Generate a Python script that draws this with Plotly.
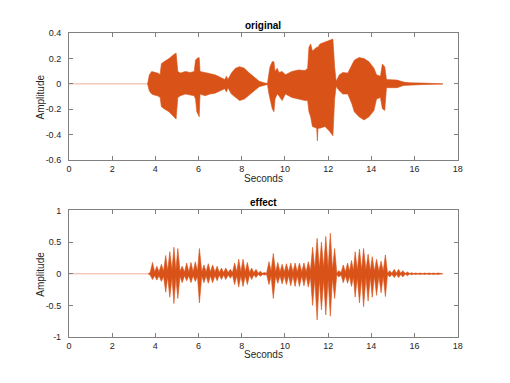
import plotly.graph_objects as go

# ---------------- data ----------------
# "original": upper / lower envelope of the waveform
orig_t = [3.64, 3.72, 3.83, 3.95, 4.10, 4.22, 4.28, 4.40, 4.63, 4.86, 4.96, 5.04, 5.16, 5.39, 5.61,
          5.80, 5.86, 5.92, 6.03, 6.07, 6.30, 6.53, 6.76, 6.98, 7.21, 7.29, 7.36, 7.52, 7.71, 7.90,
          8.12, 8.35, 8.58, 8.81, 9.03, 9.19, 9.26, 9.31, 9.41, 9.49, 9.54, 9.64, 9.72, 9.87, 10.02,
          10.32, 10.63, 10.93, 11.05, 11.11, 11.19, 11.27, 11.47, 11.50, 11.53, 11.62, 11.85, 12.07,
          12.22, 12.30, 12.37, 12.52, 12.68, 12.91, 13.10, 13.21, 13.43, 13.66, 13.89, 14.12, 14.24,
          14.42, 14.51, 14.62, 14.70, 14.88, 15.19, 15.49, 15.79, 16.40, 17.31]
orig_hi = [0.0, 0.07, 0.098, 0.093, 0.085, 0.075, 0.16, 0.175, 0.20, 0.233, 0.244, 0.098, 0.085, 0.098, 0.09,
           0.098, 0.187, 0.20, 0.208, 0.098, 0.09, 0.08, 0.072, 0.055, 0.034, 0.06, 0.034, 0.085, 0.124, 0.136,
           0.124, 0.085, 0.055, 0.021, 0.008, 0.003, 0.085, 0.136, 0.175, 0.175, 0.098, 0.124, 0.09, 0.098, 0.072,
           0.098, 0.11, 0.105, 0.124, 0.29, 0.315, 0.26, 0.29, 0.29, 0.29, 0.315, 0.328, 0.346,
           0.354, 0.136, 0.021, 0.072, 0.09, 0.085, 0.149, 0.187, 0.208, 0.20, 0.175, 0.124, 0.072,
           0.06, 0.157, 0.136, 0.034, 0.034, 0.03, 0.014, 0.008, 0.006, 0.0]
orig_lo = [0.0, -0.055, -0.08, -0.088, -0.094, -0.106, -0.18, -0.196, -0.22, -0.26, -0.278, -0.107, -0.094, -0.08, -0.088,
           -0.094, -0.12, -0.22, -0.26, -0.08, -0.094, -0.08, -0.074, -0.055, -0.038, -0.064, -0.03, -0.08, -0.107, -0.132,
           -0.12, -0.089, -0.055, -0.022, -0.01, -0.004, -0.08, -0.132, -0.196, -0.22, -0.12, -0.08, -0.094, -0.132, -0.08,
           -0.107, -0.12, -0.132, -0.132, -0.22, -0.26, -0.336, -0.35, -0.45, -0.35, -0.35, -0.336, -0.375,
           -0.41, -0.12, -0.02, -0.055, -0.08, -0.08, -0.158, -0.22, -0.26, -0.285, -0.26, -0.21, -0.12,
           -0.107, -0.196, -0.21, -0.03, -0.03, -0.03, -0.012, -0.007, -0.005, 0.0]

# "effect": tremolo bursts (peak times, upper and lower peak values)
burst_t = [3.87, 4.07, 4.28, 4.48, 4.67, 4.86, 5.04, 5.24, 5.45, 5.65, 5.85, 6.04, 6.25, 6.45, 6.65,
           6.86, 7.06, 7.26, 7.47, 7.67, 7.86, 8.06, 8.26, 8.46, 8.66, 8.86, 9.05, 9.26, 9.46, 9.67,
           9.87, 10.07, 10.27, 10.47, 10.67, 10.88, 11.08, 11.28, 11.49, 11.69, 11.89, 12.10, 12.30,
           12.49, 12.70, 12.90, 13.08, 13.25, 13.45, 13.64, 13.85, 14.04, 14.24, 14.45, 14.65, 14.85,
           15.06, 15.26, 15.46, 15.67, 15.87, 16.05, 16.26, 16.47, 16.67, 16.88, 17.08]
burst_hi = [0.18, 0.12, 0.15, 0.29, 0.35, 0.42, 0.40, 0.12, 0.17, 0.18, 0.19, 0.40, 0.14, 0.16, 0.14,
            0.12, 0.09, 0.09, 0.07, 0.17, 0.23, 0.23, 0.18, 0.09, 0.07, 0.04, 0.02, 0.19, 0.32, 0.18,
            0.15, 0.16, 0.17, 0.17, 0.17, 0.17, 0.19, 0.42, 0.56, 0.50, 0.59, 0.64, 0.40,
            0.05, 0.14, 0.17, 0.21, 0.35, 0.39, 0.40, 0.31, 0.27, 0.23, 0.20, 0.30, 0.05,
            0.07, 0.07, 0.05, 0.03, 0.015, 0.012, 0.012, 0.012, 0.012, 0.012, 0.012]
burst_lo = [-0.09, -0.10, -0.12, -0.29, -0.37, -0.47, -0.39, -0.14, -0.11, -0.14, -0.12, -0.46, -0.14, -0.15, -0.14,
            -0.11, -0.09, -0.09, -0.07, -0.17, -0.21, -0.20, -0.17, -0.09, -0.06, -0.04, -0.02, -0.17, -0.39, -0.15,
            -0.16, -0.17, -0.19, -0.20, -0.20, -0.19, -0.21, -0.50, -0.73, -0.57, -0.65, -0.67, -0.39,
            -0.05, -0.14, -0.15, -0.20, -0.37, -0.46, -0.52, -0.43, -0.37, -0.34, -0.30, -0.36, -0.05,
            -0.06, -0.06, -0.05, -0.03, -0.015, -0.012, -0.012, -0.012, -0.012, -0.012, -0.012]
# gaps between bursts (time, half-width of the residual band)
gap_t = [3.67, 3.76, 3.97, 4.17, 4.38, 4.57, 4.77, 4.95, 5.14, 5.35, 5.55, 5.75, 5.95, 6.15, 6.35, 6.55,
         6.76, 6.96, 7.16, 7.37, 7.57, 7.77, 7.96, 8.16, 8.36, 8.56, 8.76, 8.96, 9.15, 9.36, 9.57,
         9.77, 9.97, 10.17, 10.37, 10.57, 10.78, 10.98, 11.18, 11.38, 11.59, 11.79, 12.00, 12.20,
         12.40, 12.60, 12.80, 12.99, 13.17, 13.35, 13.55, 13.75, 13.95, 14.14, 14.35, 14.55, 14.75,
         14.95, 15.16, 15.36, 15.57, 15.77, 15.96, 16.16, 16.37, 16.57, 16.78, 16.98, 17.18, 17.30]
gap_amp = [0.0, 0.02, 0.03, 0.03, 0.04, 0.05, 0.06, 0.06, 0.04, 0.03, 0.03, 0.03, 0.04, 0.03, 0.03, 0.03,
           0.03, 0.02, 0.02, 0.02, 0.02, 0.03, 0.03, 0.03, 0.02, 0.015, 0.01, 0.01, 0.01, 0.04, 0.03,
           0.03, 0.03, 0.03, 0.03, 0.03, 0.03, 0.03, 0.05, 0.08, 0.09, 0.09, 0.09, 0.07,
           0.01, 0.02, 0.03, 0.04, 0.05, 0.06, 0.06, 0.06, 0.05, 0.04, 0.04, 0.04, 0.01,
           0.01, 0.01, 0.01, 0.005, 0.005, 0.004, 0.004, 0.004, 0.004, 0.004, 0.004, 0.003, 0.0]

x_ticks = [0, 2, 4, 6, 8, 10, 12, 14, 16, 18]
y1_ticks = [-0.6, -0.4, -0.2, 0, 0.2, 0.4]
y1_labels = ["-0.6", "-0.4", "-0.2", "0", "0.2", "0.4"]
y2_ticks = [-1, -0.5, 0, 0.5, 1]
y2_labels = ["-1", "-0.5", "0", "0.5", "1"]

# ---------------- figure ----------------
W, H = 510, 383
COL = "#D95319"
FAINT = "rgba(217,83,25,0.45)"
FONT = "Liberation Sans, Arial, Helvetica, sans-serif"

def px_x(p):
    return p / W

def px_y(p):
    return 1 - p / H

fig = go.Figure()

# faint baselines (silent parts)
for xa, ya in (("x", "y"), ("x2", "y2")):
    fig.add_trace(go.Scatter(x=[0, 17.3], y=[0, 0], mode="lines",
                             line=dict(color=FAINT, width=1), xaxis=xa, yaxis=ya,
                             hoverinfo="skip", showlegend=False))

# original envelope
fig.add_trace(go.Scatter(x=orig_t + orig_t[::-1], y=orig_hi + orig_lo[::-1],
                         fill="toself", fillcolor=COL, mode="lines",
                         line=dict(color=COL, width=0.6), xaxis="x", yaxis="y",
                         showlegend=False))

# effect envelope: merge bursts and gaps in time order
pts = [(t, h, l) for t, h, l in zip(burst_t, burst_hi, burst_lo)]
pts += [(t, a, -a) for t, a in zip(gap_t, gap_amp)]
pts.sort(key=lambda p: p[0])
et = [p[0] for p in pts]
eh = [p[1] for p in pts]
el = [p[2] for p in pts]
fig.add_trace(go.Scatter(x=et + et[::-1], y=eh + el[::-1],
                         fill="toself", fillcolor=COL, mode="lines",
                         line=dict(color=COL, width=0.6), xaxis="x2", yaxis="y2",
                         showlegend=False))

L, R = 67, 462
T1, B1 = 29, 159
T2, B2 = 211, 341
AX = "#808080"

xcommon = dict(range=[0, 18], tickvals=x_ticks, ticktext=[str(v) for v in x_ticks],
               showline=True, linecolor=AX, linewidth=1, mirror="ticks",
               ticks="inside", ticklen=4, tickcolor=AX, tickwidth=1,
               showgrid=False, zeroline=False,
               tickfont=dict(family=FONT, size=9, color="#262626"))
ycommon = dict(showline=True, linecolor=AX, linewidth=1, mirror="ticks",
               ticks="inside", ticklen=4, tickcolor=AX, tickwidth=1,
               showgrid=False, zeroline=False, ticklabelstandoff=5,
               tickfont=dict(family=FONT, size=9, color="#262626"))

fig.update_layout(
    width=W, height=H, autosize=False,
    margin=dict(l=0, r=0, t=0, b=0),
    paper_bgcolor="white", plot_bgcolor="white",
    xaxis=dict(domain=[px_x(L), px_x(R)], anchor="y", **xcommon),
    yaxis=dict(domain=[px_y(B1), px_y(T1)], anchor="x", range=[-0.6, 0.4],
               tickvals=y1_ticks, ticktext=y1_labels, **ycommon),
    xaxis2=dict(domain=[px_x(L), px_x(R)], anchor="y2", **xcommon),
    yaxis2=dict(domain=[px_y(B2), px_y(T2)], anchor="x2", range=[-1, 1],
                tickvals=y2_ticks, ticktext=y2_labels, **ycommon),
    showlegend=False,
)

cx = px_x((L + R) / 2)
ann = []
for title, ty, sy, ay in (("original", 21, 178, (T1 + B1) / 2), ("effect", 203, 359, (T2 + B2) / 2)):
    ann.append(dict(text="<b>%s</b>" % title, x=cx, y=px_y(ty), xref="paper", yref="paper",
                    xanchor="center", yanchor="middle", showarrow=False,
                    font=dict(family=FONT, size=10, color="black")))
    ann.append(dict(text="Seconds", x=cx, y=px_y(sy), xref="paper", yref="paper",
                    xanchor="center", yanchor="middle", showarrow=False,
                    font=dict(family=FONT, size=10, color="#262626")))
    ann.append(dict(text="Amplitude", x=px_x(38.5), y=px_y(ay), xref="paper", yref="paper",
                    xanchor="center", yanchor="middle", showarrow=False, textangle=-90,
                    font=dict(family=FONT, size=10, color="#262626")))
fig.update_layout(annotations=ann)

fig.write_html("out.html", config={"displayModeBar": False},
               post_script="document.body.style.margin='0';document.body.style.overflow='hidden';")
